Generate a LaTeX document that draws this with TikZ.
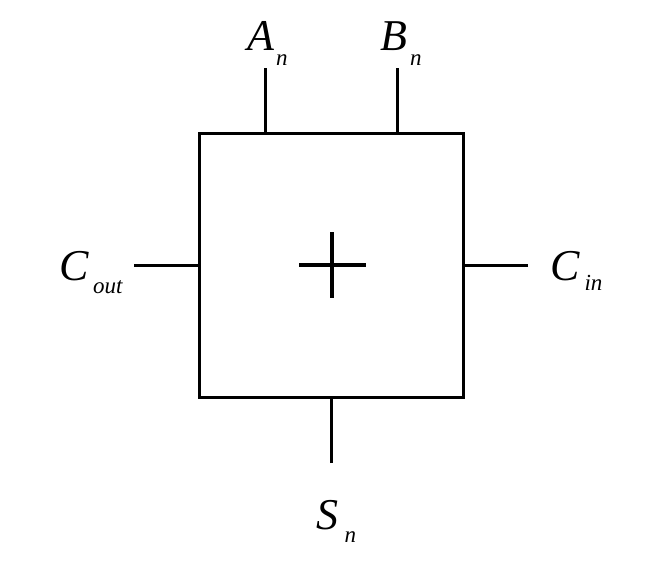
\documentclass[tikz,border=0pt]{standalone}
\usepackage{fontspec}
\setmainfont{Liberation Serif}
\newcommand{\bigL}[1]{{\fontsize{44pt}{46pt}\selectfont\itshape #1}}
\newcommand{\subL}[1]{{\fontsize{23pt}{25pt}\selectfont\itshape #1}}
\begin{document}
\begin{tikzpicture}[x=1pt,y=-1pt,
  wire/.style={line width=3pt},
  lbl/.style={anchor=base west,inner sep=0pt}]
\useasboundingbox (0,0) rectangle (645,584);
\node[draw,line width=3pt,minimum width=264pt,minimum height=264pt,inner sep=0pt] (box) at (331,265) {};
\coordinate (a) at (265,68);
\coordinate (b) at (397,68);
\coordinate (l) at (134,265);
\coordinate (r) at (528,265);
\coordinate (s) at (331,463);
\draw[wire] (a) -- (a |- box.north);
\draw[wire] (b) -- (b |- box.north);
\draw[wire] (l) -- (box.west);
\draw[wire] (r) -- (box.east);
\draw[wire] (s) -- (box.south);
\draw[line width=4.8pt] (299,265) -- (366,265) (332,232) -- (332,298);
\node[lbl] (la) at (247,50) {\bigL{A}\hspace{2pt}\raisebox{-15pt}{\subL{n}}};
\node[lbl] (lb) at (380,50) {\bigL{B}\hspace{3pt}\raisebox{-15pt}{\subL{n}}};
\node[lbl] (lcout) at (59,280) {\bigL{C}\hspace{4.5pt}\raisebox{-13pt}{\subL{out}}};
\node[lbl] (lcin) at (550,280) {\bigL{C}\hspace{5pt}\raisebox{-10pt}{\subL{in}}};
\node[lbl] (ls) at (316,529) {\bigL{S}\hspace{6.5pt}\raisebox{-13pt}{\subL{n}}};
\end{tikzpicture}
\end{document}
